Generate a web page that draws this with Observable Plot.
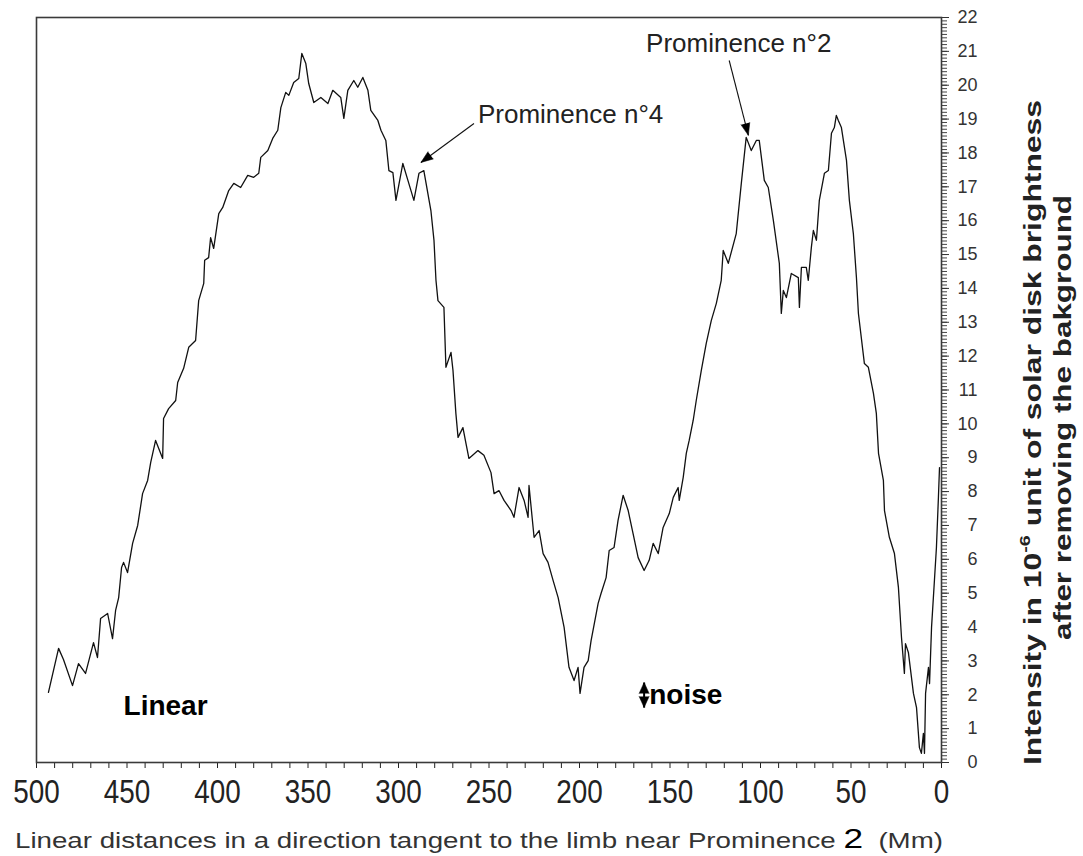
<!DOCTYPE html>
<html>
<head>
<meta charset="utf-8">
<script src="https://cdn.jsdelivr.net/npm/d3@7"></script>
<script src="https://cdn.jsdelivr.net/npm/@observablehq/plot@0.6"></script>
<style>
html, body { margin: 0; padding: 0; background: #fff; }
#chart svg { display: block; }
</style>
</head>
<body>
<div id="chart"></div>
<script>
// Distance along the tangent to the limb (Mm)
const distance = [493.4, 487.8, 485.1, 480.1, 476.8, 472.9, 468.5, 466.3, 464.6, 460.7,
  458.0, 456.3, 454.6, 453.0, 451.9, 449.7, 446.9, 444.1, 441.4, 438.6,
  436.9, 434.2, 430.3, 429.8, 427.0, 423.1, 422.0, 418.7, 415.9, 412.1,
  410.4, 407.6, 407.1, 404.9, 403.8, 402.1, 399.3, 397.1, 393.8, 391.0,
  387.2, 383.3, 380.0, 377.2, 376.1, 372.2, 369.5, 366.7, 365.0, 362.3,
  360.6, 357.9, 355.1, 353.4, 351.2, 349.6, 346.8, 342.9, 339.0, 336.3,
  331.9, 330.2, 328.0, 324.7, 322.5, 319.7, 316.9, 315.3, 311.4, 309.7,
  307.0, 305.3, 303.1, 301.4, 297.6, 294.8, 291.5, 288.7, 286.0, 282.1,
  280.4, 279.3, 278.2, 274.9, 273.8, 271.0, 269.9, 268.3, 267.1, 264.4,
  262.7, 261.1, 256.1, 252.8, 248.9, 247.2, 244.5, 241.7, 237.8, 236.2,
  233.4, 230.6, 228.4, 227.9, 225.1, 222.3, 220.1, 217.4, 214.6, 211.8,
  208.5, 205.8, 203.0, 200.8, 199.7, 197.5, 195.2, 193.6, 189.7, 188.1,
  185.3, 183.6, 180.9, 178.7, 175.9, 173.1, 170.4, 167.6, 164.3, 161.5,
  159.3, 156.5, 153.8, 150.4, 148.2, 145.5, 144.9, 142.7, 141.0, 139.4,
  137.2, 135.5, 132.7, 130.0, 127.2, 124.4, 121.7, 120.6, 117.8, 113.4,
  110.6, 107.9, 105.1, 102.3, 100.7, 97.9, 95.7, 92.9, 89.6, 88.5,
  87.4, 85.7, 83.0, 79.1, 78.5, 77.4, 74.7, 73.6, 71.9, 70.8,
  69.1, 67.5, 64.7, 62.5, 60.8, 59.2, 58.1, 57.0, 55.3, 52.5,
  50.9, 48.7, 47.0, 45.9, 42.6, 40.4, 37.6, 36.0, 34.8, 32.1,
  31.5, 28.8, 26.0, 23.8, 22.1, 20.5, 19.9, 18.3, 15.5, 13.8,
  12.2, 11.1, 10.0, 9.4, 8.8, 7.2, 6.6, 5.5, 3.9, 2.8,
  1.7, 1.1];

// Intensity in 1e-6 unit of solar disk brightness
const intensity = [2.07, 3.37, 3.04, 2.27, 2.92, 2.63, 3.54, 3.10, 4.25, 4.40,
  3.66, 4.49, 4.87, 5.76, 5.91, 5.61, 6.47, 7.00, 7.94, 8.33,
  8.86, 9.51, 8.98, 10.16, 10.45, 10.69, 11.22, 11.64, 12.26, 12.46,
  13.64, 14.15, 14.83, 14.91, 15.50, 15.18, 16.21, 16.39, 16.89, 17.10,
  16.98, 17.34, 17.28, 17.40, 17.87, 18.07, 18.43, 18.67, 19.34, 19.79,
  19.70, 20.08, 20.20, 20.94, 20.64, 20.05, 19.49, 19.64, 19.46, 19.85,
  19.64, 19.02, 19.85, 20.14, 19.94, 20.23, 19.85, 19.26, 18.96, 18.67,
  18.37, 17.48, 17.42, 16.60, 17.69, 17.19, 16.60, 17.40, 17.48, 16.30,
  15.42, 14.24, 13.64, 13.44, 11.67, 12.11, 11.58, 10.31, 9.60, 9.89,
  9.42, 8.98, 9.21, 9.07, 8.56, 7.94, 8.03, 7.74, 7.44, 7.24,
  8.12, 7.74, 7.24, 8.18, 6.65, 6.85, 6.17, 5.91, 5.38, 4.87,
  3.99, 2.81, 2.42, 2.81, 2.04, 2.81, 3.01, 3.60, 4.70, 4.99,
  5.46, 6.26, 6.35, 7.15, 7.89, 7.44, 6.76, 6.05, 5.67, 5.97,
  6.47, 6.17, 6.94, 7.35, 7.83, 8.12, 7.74, 8.42, 9.13, 9.51,
  10.10, 10.69, 11.58, 12.37, 13.05, 13.56, 14.24, 15.12, 14.74, 15.62,
  17.10, 18.46, 18.07, 18.37, 18.37, 17.19, 16.98, 16.01, 14.74, 13.26,
  13.94, 13.73, 14.44, 14.32, 13.44, 14.62, 14.62, 14.24, 15.21, 15.71,
  15.42, 16.60, 17.40, 17.48, 18.58, 18.75, 19.11, 18.96, 18.75, 17.78,
  16.60, 15.62, 14.32, 13.26, 11.78, 11.67, 10.90, 10.31, 9.13, 8.33,
  7.44, 6.65, 6.17, 5.17, 3.69, 2.63, 3.51, 3.25, 2.04, 1.62,
  0.44, 0.27, 0.86, 0.27, 2.04, 2.81, 2.33, 3.99, 5.38, 6.35,
  7.83, 8.71];

const xTicks = d3.range(0, 501, 10);
const yMinorTicks = d3.range(0, 221).map(i => i / 10);
const yTicks = d3.range(0, 23);

// Annotations (data coordinates)
const annotations = [
  {label: "Prominence n°4", tx: 256.1, ty: 18.87, x1: 258.3, y1: 18.87, x2: 287.6, y2: 17.72},
  {label: "Prominence n°2", tx: 163.2, ty: 20.97, x1: 117.3, y1: 20.73, x2: 106.7, y2: 18.52}
];
const notes = [
  {text: "Linear", x: 451.9, y: 1.39},
  {text: "noise", x: 161.5, y: 1.74}
];
const noiseBar = {x: 164.3, top: 2.36, bottom: 1.62, upBase: 2.04, downBase: 1.95};

const W = 1083, H = 856, mL = 36, mR = 142, mT = 17, mB = 94;
const profile = distance.map((d, i) => ({d, v: intensity[i]}));
const xs = d3.scaleLinear([500, 0], [mL, W - mR]);
const ys = d3.scaleLinear([0, 22], [H - mB, mT]);
annotations.forEach(a => {
  a.angle = Math.atan2(xs(a.x2) - xs(a.x1), -(ys(a.y2) - ys(a.y1))) * 180 / Math.PI;
});
const noiseHeads = [
  {x: noiseBar.x, y: noiseBar.upBase, rot: 0},
  {x: noiseBar.x, y: noiseBar.downBase, rot: 180}
];

const chart = Plot.plot({
  width: W, height: H,
  marginLeft: mL, marginRight: mR, marginTop: mT, marginBottom: mB,
  x: {domain: [500, 0], label: null},
  y: {domain: [0, 22], label: null},
  style: {fontFamily: "'Liberation Sans', Arial, sans-serif", background: "#fff", color: "#222"},
  marks: [
    Plot.axisX({ticks: xTicks, tickFormat: d => d % 50 === 0 ? String(d) : "", tickSize: 6, tickPadding: 10,
      fontSize: 34, label: null, color: "#222"}),
    Plot.axisY({anchor: "right", ticks: yMinorTicks, tickSize: 5, tickFormat: () => "", label: null, color: "#444"}),
    Plot.axisY({anchor: "right", ticks: yTicks, tickSize: 7, tickPadding: 29, textAnchor: "end",
      fontSize: 18, label: null, color: "#333"}),
    Plot.frame({stroke: "#3a3a3a", strokeWidth: 1.6}),
    Plot.line(profile, {x: "d", y: "v", stroke: "#111", strokeWidth: 1.3}),
    Plot.link(annotations, {x1: "x1", y1: "y1", x2: "x2", y2: "y2", stroke: "#111", strokeWidth: 1.1}),
    Plot.vector(annotations, {x: "x2", y: "y2", rotate: "angle", length: 12, r: 4.5, shape: "spike",
      anchor: "end", fill: "#000", stroke: "#000", strokeWidth: 0.5}),
    Plot.text(annotations, {x: "tx", y: "ty", text: "label", textAnchor: "start", lineAnchor: "bottom",
      fontSize: 26, fill: "#222"}),
    Plot.text(notes, {x: "x", y: "y", text: "text", textAnchor: "start", lineAnchor: "bottom",
      fontSize: 28, fontWeight: "bold", fill: "#000"}),
    Plot.link([noiseBar], {x1: "x", x2: "x", y1: "top", y2: "bottom", stroke: "#000", strokeWidth: 2}),
    Plot.vector(noiseHeads, {x: "x", y: "y", rotate: "rot", length: 11, r: 5, shape: "spike",
      anchor: "start", fill: "#000", stroke: "#000", strokeWidth: 0.5})
  ]
});

document.getElementById("chart").appendChild(chart);

const svg = d3.select(chart);

// Condense the x tick labels horizontally (narrow font look of the reference)
svg.selectAll("g[aria-label='x-axis tick label'] text").each(function() {
  const t = this.getAttribute("transform");
  if (t) this.setAttribute("transform", t + " scale(0.82,1)");
});

// Axis titles
const xt = svg.append("text")
  .attr("x", 15).attr("y", 848)
  .attr("text-anchor", "start")
  .attr("textLength", 928).attr("lengthAdjust", "spacingAndGlyphs")
  .attr("font-size", 22).attr("fill", "#333");
xt.append("tspan").text("Linear distances in a direction tangent to the limb near Prominence ");
xt.append("tspan").attr("font-size", 28).attr("fill", "#000").text("2");
xt.append("tspan").text("  (Mm)");

const yt1 = svg.append("text")
  .attr("transform", "translate(1041,765) rotate(-90)")
  .attr("text-anchor", "start")
  .attr("textLength", 665).attr("lengthAdjust", "spacingAndGlyphs")
  .attr("font-size", 24).attr("font-weight", "bold").attr("fill", "#222");
yt1.append("tspan").text("Intensity in 10");
yt1.append("tspan").attr("font-size", 15).attr("dy", -11).text("-6");
yt1.append("tspan").attr("dy", 11).text(" unit of solar disk brightness");

svg.append("text")
  .attr("transform", "translate(1071,640) rotate(-90)")
  .attr("text-anchor", "start")
  .attr("textLength", 445).attr("lengthAdjust", "spacingAndGlyphs")
  .attr("font-size", 24).attr("font-weight", "bold").attr("fill", "#222")
  .text("after removing the bakground");
</script>
</body>
</html>
